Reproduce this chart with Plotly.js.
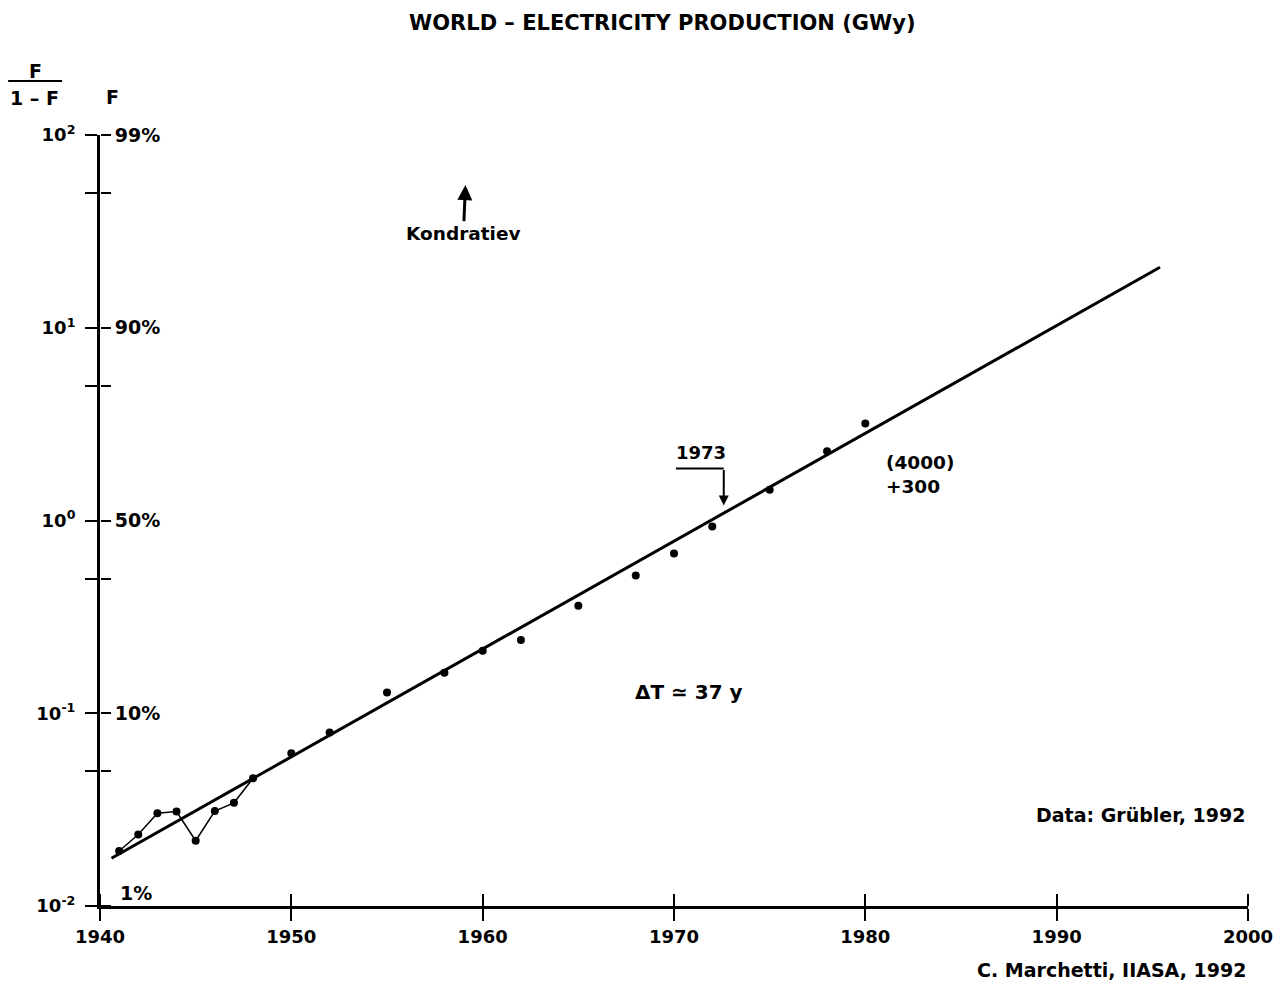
<!DOCTYPE html>
<html>
<head>
<meta charset="utf-8">
<script src="https://cdn.plot.ly/plotly-3.0.1.min.js"></script>
<style>html,body{margin:0;padding:0;background:#fff;}#chart{width:1286px;height:987px;}</style>
</head>
<body>
<div id="chart"></div>
<script>
// World electricity production, logistic (Fisher-Pry) transform F/(1-F)
const years = [1941, 1942, 1943, 1944, 1945, 1946, 1947, 1948, 1950, 1952, 1955, 1958, 1960, 1962, 1965, 1968, 1970, 1972, 1975, 1978, 1980];
const ratio = [0.0193, 0.0235, 0.0303, 0.0309, 0.0218, 0.0311, 0.0343, 0.046, 0.062, 0.0794, 0.128, 0.162, 0.211, 0.240, 0.361, 0.518, 0.675, 0.931, 1.445, 2.29, 3.19];
// early years joined by a thin line
const earlyYears = [1941, 1942, 1943, 1944, 1945, 1946, 1947, 1948];
const earlyRatio = [0.0193, 0.0235, 0.0303, 0.0309, 0.0218, 0.0311, 0.0343, 0.046];
// fitted logistic (straight line in this transform)
const fitYears = [1940.6, 1995.4];
const fitRatio = [0.0177, 20.6];
// axis ticks
const xTicks = [1940, 1950, 1960, 1970, 1980, 1990, 2000];
const yTicks = [0.01, 0.05, 0.1, 0.5, 1, 5, 10, 50, 100];
const yTickLeft = ['10<sup>-2</sup>', '', '10<sup>-1</sup>', '', '10<sup>0</sup>', '', '10<sup>1</sup>', '', '10<sup>2</sup>'];
const yTickRight = ['', '', '10%', '', '50%', '', '90%', '', '99%'];

const FONT = 'DejaVu Sans, Liberation Sans, sans-serif';
const bold = (s) => '<b>' + s + '</b>';

const traces = [
  {x: fitYears, y: fitRatio, mode: 'lines', line: {color: '#000', width: 3}, hoverinfo: 'skip', xaxis: 'x', yaxis: 'y'},
  {x: earlyYears, y: earlyRatio, mode: 'lines', line: {color: '#000', width: 1.5}, hoverinfo: 'skip', xaxis: 'x', yaxis: 'y'},
  {x: years, y: ratio, mode: 'markers', marker: {color: '#000', size: 8}, xaxis: 'x', yaxis: 'y'},
  {x: [1950], y: [1], mode: 'markers', marker: {opacity: 0}, hoverinfo: 'skip', xaxis: 'x2', yaxis: 'y2'}
];

const tickFont = {family: FONT, size: 18, color: '#000', weight: 'bold'};

const layout = {
  width: 1286, height: 987,
  margin: {l: 100, r: 38, t: 135, b: 81},
  paper_bgcolor: '#fff', plot_bgcolor: '#fff',
  showlegend: false,
  font: {family: FONT, color: '#000'},
  title: {text: bold('WORLD – ELECTRICITY PRODUCTION (GWy)'), x: 0.515, xanchor: 'center', y: 0.977, yanchor: 'middle', font: {family: FONT, size: 21, color: '#000'}},
  xaxis: {range: [1940, 2000], tickmode: 'array', tickvals: xTicks, ticktext: xTicks.map(String), ticks: 'outside', ticklen: 12, tickwidth: 2, tickcolor: '#000',
          showline: true, linewidth: 3, linecolor: '#000', showgrid: false, zeroline: false, tickfont: tickFont, fixedrange: true},
  xaxis2: {overlaying: 'x', side: 'top', anchor: 'free', position: 0, range: [1940, 2000], tickmode: 'array', tickvals: xTicks,
           ticks: 'outside', ticklen: 12, tickwidth: 2, tickcolor: '#000', showticklabels: false, showline: false, showgrid: false, zeroline: false},
  yaxis: {type: 'log', range: [-2, 2], tickmode: 'array', tickvals: yTicks, ticktext: yTickLeft, ticks: 'outside', ticklen: 12, tickwidth: 2, tickcolor: '#000',
          ticklabelstandoff: 6,
          showline: true, linewidth: 3, linecolor: '#000', showgrid: false, zeroline: false, tickfont: tickFont},
  yaxis2: {type: 'log', overlaying: 'y', side: 'right', anchor: 'free', position: 0, range: [-2, 2], tickmode: 'array', tickvals: yTicks, ticktext: yTickRight,
           ticks: 'outside', ticklen: 10, tickwidth: 2, tickcolor: '#000', ticklabelstandoff: 0, showline: false, showgrid: false, zeroline: false,
           tickfont: {family: FONT, size: 19, color: '#000', weight: 'bold'}},
  shapes: [
    // fraction bar of F/(1-F)
    {type: 'line', xref: 'paper', yref: 'paper', x0: -0.080, x1: -0.033, y0: 1.070, y1: 1.070, line: {color: '#000', width: 2}},
    // horizontal leg of the 1973 arrow (data units on the log axis)
    {type: 'line', xref: 'x', yref: 'y', x0: 1970.1, x1: 1972.6, y0: 1.86, y1: 1.86, line: {color: '#000', width: 2}}
  ],
  annotations: [
    {xref: 'paper', yref: 'paper', x: -0.056, y: 1.083, text: bold('F'), showarrow: false, font: {size: 19}, xanchor: 'center', yanchor: 'middle'},
    {xref: 'paper', yref: 'paper', x: -0.057, y: 1.048, text: bold('1 – F'), showarrow: false, font: {size: 19}, xanchor: 'center', yanchor: 'middle'},
    {xref: 'paper', yref: 'paper', x: 0.0113, y: 1.049, text: bold('F'), showarrow: false, font: {size: 19}, xanchor: 'center', yanchor: 'middle'},
    {xref: 'x', yref: 'y', x: 1941.9, y: -1.93, text: bold('1%'), showarrow: false, font: {size: 19}, xanchor: 'center', yanchor: 'middle'},
    // Kondratiev marker
    {xref: 'x', yref: 'y', x: 1959.1, y: 1.74, text: bold('Kondratiev'), showarrow: true, arrowhead: 2, arrowsize: 1, arrowwidth: 3, arrowcolor: '#000',
     ax: -2, ay: 48, font: {size: 18.5}, standoff: 0},
    // 1973 arrow
    {xref: 'x', yref: 'y', x: 1972.6, y: 0.078, text: '', showarrow: true, arrowhead: 2, arrowsize: 1, arrowwidth: 2, arrowcolor: '#000', ax: 0, ay: -37, standoff: 0},
    {xref: 'x', yref: 'y', x: 1971.4, y: 0.353, text: bold('1973'), showarrow: false, font: {size: 18}, xanchor: 'center', yanchor: 'middle'},
    {xref: 'x', yref: 'y', x: 1981.0, y: 0.241, text: bold('(4000)<br>+300'), showarrow: false, align: 'left', font: {size: 18.5}, xanchor: 'left', yanchor: 'middle'},
    {xref: 'x', yref: 'y', x: 1970.8, y: -0.890, text: bold('ΔT ≃ 37 y'), showarrow: false, font: {size: 20}, xanchor: 'center', yanchor: 'middle'},
    {xref: 'paper', yref: 'paper', x: 1, y: 0.118, text: bold('Data: Grübler, 1992'), showarrow: false, font: {size: 19}, xanchor: 'right', yanchor: 'middle'},
    {xref: 'paper', yref: 'paper', x: 1, y: -0.083, text: bold('C. Marchetti, IIASA, 1992'), showarrow: false, font: {size: 19}, xanchor: 'right', yanchor: 'middle'}
  ]
};

Plotly.newPlot('chart', traces, layout, {staticPlot: true, displayModeBar: false});
</script>
</body>
</html>
